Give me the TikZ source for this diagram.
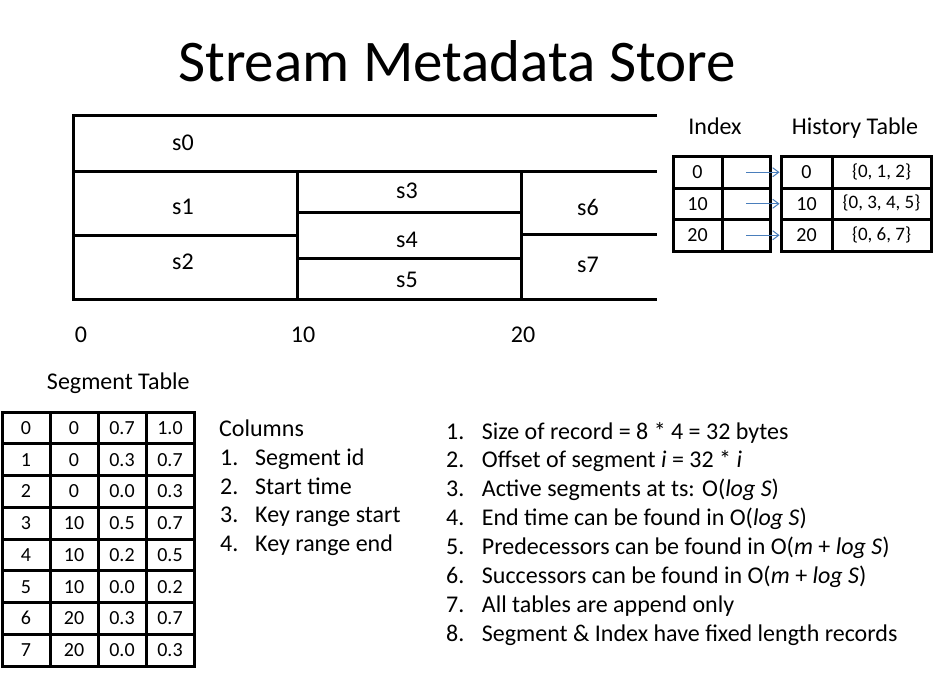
\documentclass[tikz,border=0pt]{standalone}
\usepackage{fontspec}
\setmainfont{Carlito}
\usetikzlibrary{arrows.meta}
\begin{document}
\begin{tikzpicture}[x=1pt,y=-1pt,
  bar/.style={line width=3pt,line cap=butt,line join=miter},
  seglabel/.style={font=\fontsize{24}{28}\selectfont},
  heading/.style={font=\fontsize{24}{28}\selectfont,anchor=base},
  cell/.style={draw,line width=3pt,inner sep=0pt,text height=13pt,text depth=0pt,
    font=\fontsize{20}{24}\selectfont},
  segcell/.style={cell,minimum width=48pt,minimum height=31.75pt},
  idxcell/.style={cell,minimum height=31.5pt},
  histtext/.style={font=\fontsize{19}{22}\selectfont,text height=13pt,text depth=3pt},
  link/.style={draw=linkblue,line width=1pt,-{Straight Barb[length=6pt,width=9pt]}},
  item/.style={font=\fontsize{24}{28}\selectfont,anchor=base west,inner sep=0pt}
]
\definecolor{linkblue}{HTML}{4A7EBB}
\useasboundingbox[fill=white] (0,0) rectangle (934,677);

% title
\node[font=\fontsize{59}{70}\selectfont,anchor=base] (title) at (457,81.7) {Stream Metadata Store};

% key-space / time diagram of segments
\draw[bar] (657,115) -- (73,115) -- (73,299) -- (657,299);
\draw[bar] (73,171) -- (657,171);
\draw[bar] (297,171) -- (297,299);
\draw[bar] (521,171) -- (521,299);
\draw[bar] (73,235.4) -- (297,235.4);
\draw[bar] (297,212.7) -- (521,212.7);
\draw[bar] (297,258.8) -- (521,258.8);
\draw[bar] (521,234.7) -- (657,234.7);

\node[seglabel] (s0) at (183,143) {s0};
\node[seglabel] (s1) at (183,207) {s1};
\node[seglabel] (s2) at (183,262) {s2};
\node[seglabel] (s3) at (407,191) {s3};
\node[seglabel] (s4) at (407,240) {s4};
\node[seglabel] (s5) at (407,280) {s5};
\node[seglabel] (s6) at (588,207) {s6};
\node[seglabel] (s7) at (588,265) {s7};

\node[seglabel] (t0) at (81,335) {0};
\node[seglabel] (t10) at (303,335) {10};
\node[seglabel] (t20) at (523,335) {20};

% index and history tables
\node[heading] (idxhead) at (715,134) {Index};
\node[heading] (histhead) at (855,134) {History Table};

\foreach \t/\h [count=\r from 0] in {0/{\{0, 1, 2\}},10/{\{0, 3, 4, 5\}},20/{\{0, 6, 7\}}}{
  \pgfmathsetmacro{\yy}{172.25+31.5*\r}
  \node[idxcell,minimum width=49pt] (idx-\r-1) at (697.5,\yy) {\t};
  \node[idxcell,minimum width=48pt] (idx-\r-2) at (746,\yy) {};
  \node[idxcell,minimum width=51pt] (hist-\r-1) at (806.5,\yy) {\t};
  \node[idxcell,minimum width=99pt,histtext] (hist-\r-2) at (881.5,\yy) {\h};
}

\foreach \r in {0,1,2}{
  \draw[link] (idx-\r-2.center) -- (hist-\r-1.west);
}

% segment table
\node[heading] (seghead) at (118.3,389.3) {Segment Table};

\foreach \a/\b/\c/\d [count=\r from 0] in
  {0/0/0.7/1.0, 1/0/0.3/0.7, 2/0/0.0/0.3, 3/10/0.5/0.7,
   4/10/0.2/0.5, 5/10/0.0/0.2, 6/20/0.3/0.7, 7/20/0.0/0.3}{
  \pgfmathsetmacro{\yy}{427.875+31.75*\r}
  \node[segcell] (seg-\r-1) at (26,\yy) {\a};
  \node[segcell] (seg-\r-2) at (74,\yy) {\b};
  \node[segcell] (seg-\r-3) at (122,\yy) {\c};
  \node[segcell] (seg-\r-4) at (170,\yy) {\d};
}

% column legend
\node[item] (colhead) at (219,436.7) {Columns};
\foreach \txt [count=\k] in {Segment id, Start time, Key range start, Key range end}{
  \pgfmathsetmacro{\yy}{436.7+28.7*\k}
  \node[item] (colnum-\k) at (220,\yy) {\k.};
  \node[item] (coltxt-\k) at (255,\yy) {\txt};
}

% properties list
\foreach \txt [count=\k] in {
  {Size of record = 8 * 4 = 32 bytes},
  {Offset of segment \textit{i} = 32 * \textit{i}},
  {Active segments at ts: O(\textit{log S})},
  {End time can be found in O(\textit{log S})},
  {Predecessors can be found in O(\textit{m} + \textit{log S})},
  {Successors can be found in O(\textit{m} + \textit{log S})},
  {All tables are append only},
  {Segment \& Index have fixed length records}}{
  \pgfmathsetmacro{\yy}{439+28.86*(\k-1)}
  \node[item] (propnum-\k) at (446,\yy) {\k.};
  \node[item] (proptxt-\k) at (481.7,\yy) {\txt};
}
\end{tikzpicture}
\end{document}
